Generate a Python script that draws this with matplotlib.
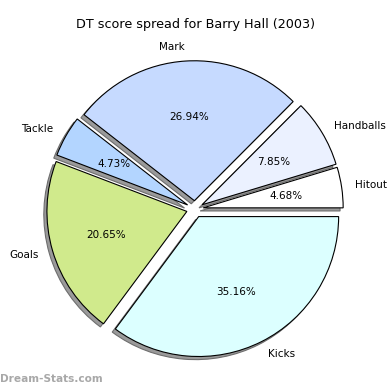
import matplotlib
matplotlib.use("Agg")
import matplotlib.pyplot as plt

# score categories, counter-clockwise from 3 o'clock
labels = ["Hitout", "Handballs", "Mark", "Tackle", "Goals", "Kicks"]
shares = [4.68, 7.85, 26.94, 4.73, 20.65, 35.16]
colors = ["#ffffff", "#ebf1ff", "#c6daff", "#b3d5ff", "#d0ea8c", "#dcffff"]
explode = [0.06] * len(labels)

fig = plt.figure(figsize=(3.9, 3.9), dpi=100)
ax = fig.add_axes([0.0513, 0.0154, 0.897, 0.897])

# flat grey drop shadow like the original
shadow_style = {"ox": -0.016, "oy": -0.016, "facecolor": "#9a9a9a",
                "edgecolor": "#6e6e6e", "linewidth": 0.8, "alpha": 1.0}

wedges, texts, autotexts = ax.pie(
    shares, labels=labels, colors=colors, explode=explode,
    autopct="%1.2f%%", shadow=shadow_style, startangle=0,
    wedgeprops=dict(edgecolor="black", linewidth=0.8),
    textprops=dict(fontsize=7.5),
)
ax.set_xlim(-1.25, 1.25)
ax.set_ylim(-1.25, 1.25)
ax.set_aspect("equal")

fig.text(0.5, 0.938, "DT score spread for Barry Hall (2003)", ha="center", va="center", fontsize=9.2)
fig.text(0.0, 0.027, "Dream-Stats.com", ha="left", va="center",
         fontsize=7.6, fontweight="semibold", color="#a8a8a8")

fig.savefig("out.png", dpi=100)
